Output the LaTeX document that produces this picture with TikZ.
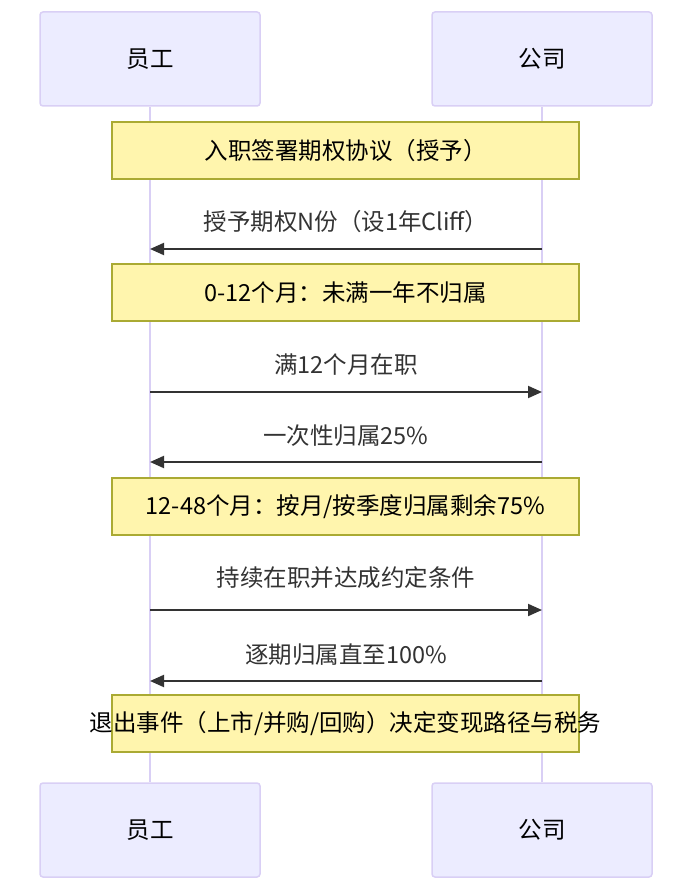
\documentclass[tikz,border=0pt]{standalone}
\usepackage{fontspec}
\setmainfont{Noto Sans CJK SC}
\usetikzlibrary{arrows.meta}
\definecolor{actfill}{HTML}{ECECFF}
\definecolor{actline}{HTML}{D9CFF5}
\definecolor{notefill}{HTML}{FFF5AD}
\definecolor{noteline}{HTML}{AAAA33}
\definecolor{msgcol}{HTML}{333333}
\tikzset{
  actor/.style={draw=actline, fill=actfill, line width=1.5pt, rounded corners=3pt,
    minimum width=220pt, minimum height=94pt, inner sep=0pt, font=\fontsize{23.5}{28}\selectfont},
  notebox/.style={draw=noteline, fill=notefill, line width=1.3pt,
    minimum width=467pt, minimum height=57pt, inner sep=0pt},
  notetext/.style={inner sep=0pt, font=\fontsize{23.5}{28}\selectfont},
  msg/.style={draw=msgcol, line width=2pt, -{Triangle[length=14pt,width=12pt]}},
  msglabel/.style={text=msgcol, inner sep=0pt, font=\fontsize{23.5}{28}\selectfont}
}
\begin{document}
\begin{tikzpicture}[x=1pt,y=-1pt]
\useasboundingbox (0,0) rectangle (688,885);

% participants
\node[actor] (emp) at (150,59) {员工};
\node[actor] (com) at (542,59) {公司};
\node[actor] (empb) at (150,830) {员工};
\node[actor] (comb) at (542,830) {公司};

% lifelines
\draw [actline, line width=2pt] (emp.south) -- (empb.north);
\draw [actline, line width=2pt] (com.south) -- (comb.north);

% points on lifelines
\coordinate (e1) at (150,249); \coordinate (c1) at (542,249);
\coordinate (e2) at (150,392); \coordinate (c2) at (542,392);
\coordinate (e3) at (150,462); \coordinate (c3) at (542,462);
\coordinate (e4) at (150,610); \coordinate (c4) at (542,610);
\coordinate (e5) at (150,681); \coordinate (c5) at (542,681);

% notes
\node[notebox] (n1) at (345.5,150.5) {};
\node[notetext] at (n1.center) {入职签署期权协议（授予）};
\node[notebox] (n2) at (345.5,292.5) {};
\node[notetext] at (n2.center) {0-12个月：未满一年不归属};
\node[notebox] (n3) at (345.5,506.5) {};
\node[notetext] at (n3.center) {12-48个月：按月/按季度归属剩余75\%};

% messages
\draw [msg] (c1) -- (e1);
\node[msglabel] at (346,222) {授予期权N份（设1年Cliff）};
\draw [msg] (e2) -- (c2);
\node[msglabel] at (346,365) {满12个月在职};
\draw [msg] (c3) -- (e3);
\node[msglabel] at (346,436) {一次性归属25\%};
\draw [msg] (e4) -- (c4);
\node[msglabel] at (346,578) {持续在职并达成约定条件};
\draw [msg] (c5) -- (e5);
\node[msglabel] at (346,655) {逐期归属直至100\%};

\node[notebox] (n4) at (345.5,723.5) {};
\node[notetext] at (n4.center) {退出事件（上市/并购/回购）决定变现路径与税务};

\end{tikzpicture}
\end{document}
